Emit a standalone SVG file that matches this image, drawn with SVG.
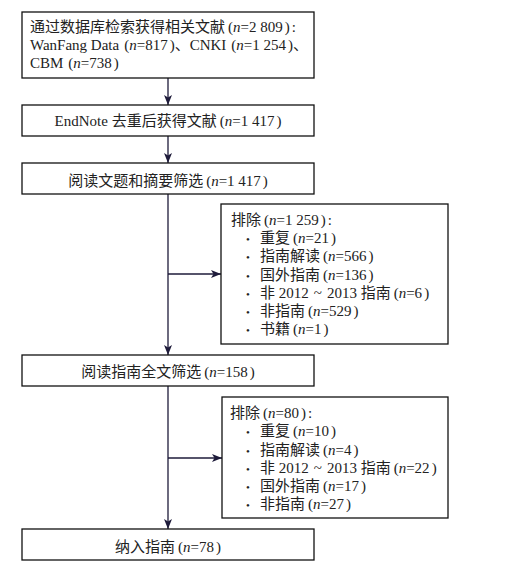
<svg xmlns="http://www.w3.org/2000/svg" width="513" height="565" viewBox="0 0 513 565">
<style>
.box{fill:#fff;stroke:#111;stroke-width:1.3}
.t{font-family:"Liberation Serif","Noto Sans CJK SC",serif;font-size:15px;fill:#222}
.c{text-anchor:middle}
.i{font-style:italic}
.b{font-size:11px}
.ln{stroke:#1e1b3a;stroke-width:1.3;fill:none}
</style>
<defs>
<marker id="ah" markerUnits="userSpaceOnUse" viewBox="0 0 10 8" refX="10" refY="4" markerWidth="10" markerHeight="8" orient="auto">
<path d="M0,0 L10,4 L0,8 L2.5,4 z" fill="#1e1b3a"/>
</marker>
</defs>
<rect width="513" height="565" fill="#fff"/>
<g id="connectors">
<line class="ln" x1="168" y1="78" x2="168" y2="105" marker-end="url(#ah)"/>
<line class="ln" x1="168" y1="136" x2="168" y2="163" marker-end="url(#ah)"/>
<line class="ln" x1="168" y1="194" x2="168" y2="355" marker-end="url(#ah)"/>
<line class="ln" x1="168" y1="274" x2="221" y2="274" marker-end="url(#ah)"/>
<line class="ln" x1="168" y1="386" x2="168" y2="529" marker-end="url(#ah)"/>
<line class="ln" x1="168" y1="458" x2="222" y2="458" marker-end="url(#ah)"/>
</g>
<g id="n1">
<rect class="box" x="22" y="12" width="292" height="66"/>
<text class="t" x="30" y="32">通过数据库检索获得相关文献<tspan dx="3">(</tspan><tspan class="i">n</tspan>=2 809<tspan dx="2">)</tspan><tspan dx="2">:</tspan></text>
<text class="t" x="30" y="50">WanFang Data<tspan dx="5">(</tspan><tspan class="i">n</tspan>=817<tspan dx="2">)</tspan>、CNKI<tspan dx="5">(</tspan><tspan class="i">n</tspan>=1 254<tspan dx="2">)</tspan>、</text>
<text class="t" x="30" y="68">CBM<tspan dx="5">(</tspan><tspan class="i">n</tspan>=738<tspan dx="2">)</tspan></text>
</g>
<g id="n2">
<rect class="box" x="22" y="105" width="292" height="31"/>
<text class="t c" x="168" y="126">EndNote 去重后获得文献<tspan dx="3">(</tspan><tspan class="i">n</tspan>=1 417<tspan dx="2">)</tspan></text>
</g>
<g id="n3">
<rect class="box" x="22" y="163" width="292" height="31"/>
<text class="t c" x="168" y="186">阅读文题和摘要筛选<tspan dx="3">(</tspan><tspan class="i">n</tspan>=1 417<tspan dx="2">)</tspan></text>
</g>
<g id="ex1">
<rect class="box" x="221" y="204" width="227" height="140"/>
<text class="t" x="231" y="225">排除<tspan dx="3">(</tspan><tspan class="i">n</tspan>=1 259<tspan dx="2">)</tspan><tspan dx="2">:</tspan></text>
<text class="t b" x="246" y="243">•</text><text class="t" x="260" y="243">重复<tspan dx="3">(</tspan><tspan class="i">n</tspan>=21<tspan dx="2">)</tspan></text>
<text class="t b" x="246" y="261">•</text><text class="t" x="260" y="261">指南解读<tspan dx="3">(</tspan><tspan class="i">n</tspan>=566<tspan dx="2">)</tspan></text>
<text class="t b" x="246" y="280">•</text><text class="t" x="260" y="280">国外指南<tspan dx="3">(</tspan><tspan class="i">n</tspan>=136<tspan dx="2">)</tspan></text>
<text class="t b" x="246" y="298">•</text><text class="t" x="260" y="298">非 2012<tspan dx="5">~</tspan><tspan dx="5">2013 指南</tspan><tspan dx="3">(</tspan><tspan class="i">n</tspan>=6<tspan dx="2">)</tspan></text>
<text class="t b" x="246" y="316">•</text><text class="t" x="260" y="316">非指南<tspan dx="3">(</tspan><tspan class="i">n</tspan>=529<tspan dx="2">)</tspan></text>
<text class="t b" x="246" y="334">•</text><text class="t" x="260" y="334">书籍<tspan dx="3">(</tspan><tspan class="i">n</tspan>=1<tspan dx="2">)</tspan></text>
</g>
<g id="n4">
<rect class="box" x="22" y="355" width="292" height="31"/>
<text class="t c" x="168" y="377">阅读指南全文筛选<tspan dx="3">(</tspan><tspan class="i">n</tspan>=158<tspan dx="2">)</tspan></text>
</g>
<g id="ex2">
<rect class="box" x="222" y="397" width="226" height="121"/>
<text class="t" x="230" y="418">排除<tspan dx="3">(</tspan><tspan class="i">n</tspan>=80<tspan dx="2">)</tspan><tspan dx="2">:</tspan></text>
<text class="t b" x="246" y="436">•</text><text class="t" x="260" y="436">重复<tspan dx="3">(</tspan><tspan class="i">n</tspan>=10<tspan dx="2">)</tspan></text>
<text class="t b" x="246" y="455">•</text><text class="t" x="260" y="455">指南解读<tspan dx="3">(</tspan><tspan class="i">n</tspan>=4<tspan dx="2">)</tspan></text>
<text class="t b" x="246" y="473">•</text><text class="t" x="260" y="473">非 2012<tspan dx="5">~</tspan><tspan dx="5">2013 指南</tspan><tspan dx="3">(</tspan><tspan class="i">n</tspan>=22<tspan dx="2">)</tspan></text>
<text class="t b" x="246" y="491">•</text><text class="t" x="260" y="491">国外指南<tspan dx="3">(</tspan><tspan class="i">n</tspan>=17<tspan dx="2">)</tspan></text>
<text class="t b" x="246" y="509">•</text><text class="t" x="260" y="509">非指南<tspan dx="3">(</tspan><tspan class="i">n</tspan>=27<tspan dx="2">)</tspan></text>
</g>
<g id="n5">
<rect class="box" x="22" y="529" width="292" height="31"/>
<text class="t c" x="168" y="552">纳入指南<tspan dx="3">(</tspan><tspan class="i">n</tspan>=78<tspan dx="2">)</tspan></text>
</g>
</svg>
